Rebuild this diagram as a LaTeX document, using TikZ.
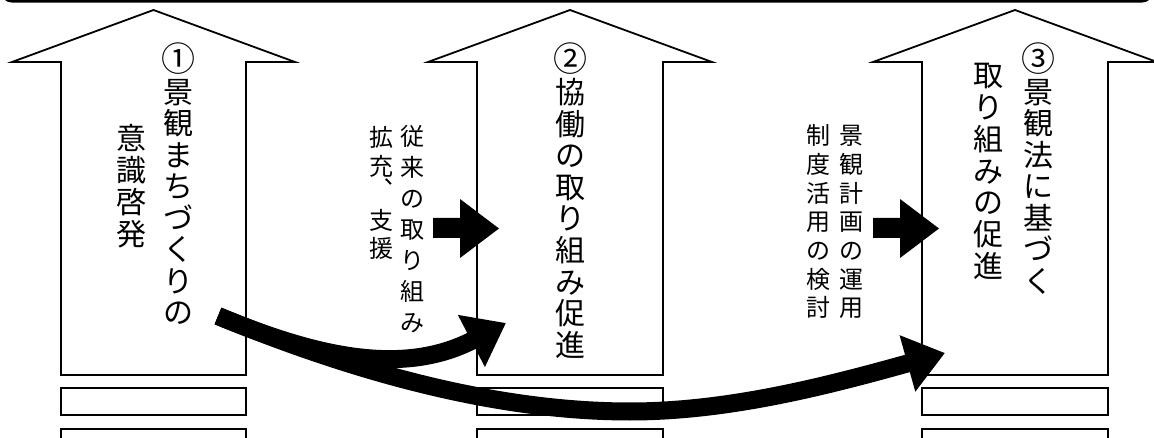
\documentclass[tikz,border=0pt]{standalone}
\usepackage{fontspec}
\newfontfamily\jp{Noto Sans CJK JP}
\usetikzlibrary{arrows.meta}
\tikzset{
  blk/.style={draw=black, line width=1.8pt, fill=white, line join=miter},
  mainch/.style={font=\jp\fontsize{30}{30}\selectfont, inner sep=0pt, text height=25.5pt, text depth=3.6pt},
  numch/.style={font=\jp\fontsize{34}{34}\selectfont, inner sep=0pt},
  sidech/.style={font=\jp\fontsize{24}{24}\selectfont, inner sep=0pt, text height=20.4pt, text depth=2.9pt},
  bigarrow/.style={line width=18pt, -{Triangle[length=39pt 0 0, width=56pt 0 0]}},
  smallarrow/.style={fill=black},
  topbar/.style={line width=3.5pt, rounded corners=12pt}
}
\newcommand\vcol[6]{\foreach \vchar [count=\i from 0] in {#6}{\node[#5] (#1\i) at ({#2},{#3+\i*#4}) {\vchar};}}
\begin{document}
\begin{tikzpicture}[x=1pt,y=-1pt]
\useasboundingbox (0,0) rectangle (1154,438);
\clip (0,0) rectangle (1154,438);
% top bar
\draw[topbar] (1,-30) -- (1,1) -- (1153,1) -- (1153,-30);
% block arrows
\draw[blk] (61,375) -- (61,62) -- (12,62) -- (153.5,10) -- (295,62) -- (246,62) -- (246,375) -- cycle;
\draw[blk] (477,375) -- (477,62) -- (428,62) -- (570,10) -- (712,62) -- (663,62) -- (663,375) -- cycle;
\draw[blk] (922,375) -- (922,62) -- (873,62) -- (1015,10) -- (1157,62) -- (1108,62) -- (1108,375) -- cycle;
% small rectangles
\foreach \xa/\xb in {61/246, 477/663, 922/1108}{
  \draw[blk] (\xa,388) rectangle (\xb,415);
  \draw[blk] (\xa,429) rectangle (\xb,450);
}
% texts
\node[numch] (n1) at (178,59) {①};
\node[numch] (n2) at (570,59) {②};
\node[numch] (n3) at (1038,59) {③};
\vcol{a}{178}{92.5}{31.5}{mainch}{景,観,ま,ち,づ,く,り,の}
\vcol{b}{131}{139}{32}{mainch}{意,識,啓,発}
\vcol{c}{570}{92.6}{31.6}{mainch}{協,働,の,取,り,組,み,促,進}
\vcol{f}{1038}{92.5}{31.5}{mainch}{景,観,法,に,基,づ,く}
\vcol{g}{988}{76}{31.7}{mainch}{取,り,組,み,の,促,進}
\vcol{d}{412}{137}{31}{sidech}{従,来,の,取,り,組,み}
\vcol{e}{381}{138}{29}{sidech}{拡,充}
\node[sidech] (ecomma) at (381,190) {︑};
\vcol{ee}{381}{221}{28}{sidech}{支,援}
\vcol{h}{851}{136}{28.7}{sidech}{景,観,計,画,の,運,用}
\vcol{i}{818}{136}{28.7}{sidech}{制,度,活,用,の,検,討}
% small black arrows
\fill[smallarrow] (433,218) -- (460,218) -- (460,199) -- (499,228.5) -- (460,258) -- (460,238) -- (433,238) -- cycle;
\fill[smallarrow] (873,218) -- (900,218) -- (900,199) -- (939,228.5) -- (900,258) -- (900,238) -- (873,238) -- cycle;
% curved arrows
\coordinate (s) at (218,316);
\coordinate (m) at (630,411.5);
\coordinate (t2) at (506,323);
\coordinate (t3) at (945,353);
\draw[bigarrow] (s) .. controls (310,354) and (400,378) .. (t2);
\draw[bigarrow] (s) .. controls (330,362) and (480,411.5) .. (m) .. controls (730,411.5) and (830,385) .. (t3);
\end{tikzpicture}
\end{document}
